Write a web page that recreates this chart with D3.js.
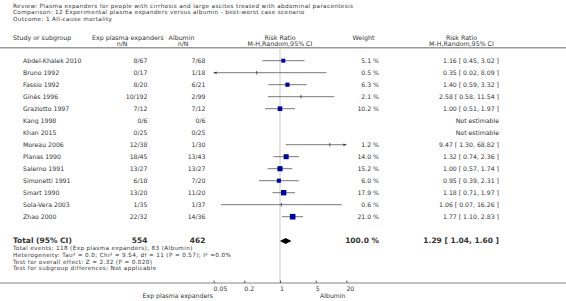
<!DOCTYPE html>
<html><head><meta charset="utf-8">
<script src="https://cdn.jsdelivr.net/npm/d3@7"></script>
<style>
html,body{margin:0;padding:0;background:#fff;}
svg text{font-family:"DejaVu Sans",sans-serif;font-size:6.4px;fill:#333;}
</style></head><body>
<svg id="c" width="566" height="301"></svg>
<script>
const titleLines = [
  "Review:  Plasma expanders for people with cirrhosis and large ascites treated with abdominal paracentesis",
  "Comparison:  12 Experimental plasma expanders versus albumin - best-worst case scenario",
  "Outcome:  1 All-cause mortality"
];
const studies = ["Abdel-Khalek 2010","Bruno 1992","Fassio 1992","Ginès 1996","Graziotto 1997","Kang 1998","Khan 2015","Moreau 2006","Planas 1990","Salerno 1991","Simonetti 1991","Smart 1990","Sola-Vera 2003","Zhao  2000"];
const expNN = ["8/67","0/17","8/20","10/192","7/12","0/6","0/25","12/38","18/45","13/27","6/18","13/20","1/35","22/32"];
const albNN = ["7/68","1/18","6/21","2/99","7/12","0/6","0/25","1/30","13/43","13/27","7/20","11/20","1/37","14/36"];
const weights = [5.1,0.5,6.3,2.1,10.2,null,null,1.2,14.0,15.2,6.0,17.9,0.6,21.0];
const rr  = [1.16,0.35,1.40,2.58,1.00,null,null,9.47,1.32,1.00,0.95,1.18,1.06,1.77];
const lo  = [0.45,0.02,0.59,0.58,0.51,null,null,1.30,0.74,0.57,0.39,0.71,0.07,1.10];
const hi  = [3.02,8.09,3.32,11.54,1.97,null,null,68.82,2.36,1.74,2.31,1.97,16.26,2.83];
const total = {exp:"554", alb:"462", weight:"100.0 %", rr:1.29, lo:1.04, hi:1.60};
const footLines = [
  "Total events: 118 (Exp plasma expanders), 83 (Albumin)",
  "Heterogeneity: Tau² = 0.0; Chi² = 9.54, df = 11 (P = 0.57); I² =0.0%",
  "Test for overall effect: Z = 2.32 (P = 0.020)",
  "Test for subgroup differences: Not applicable"
];
const ticks = [0.05,0.2,1,5,20];

const svg = d3.select("#c");
const x = d3.scaleLog().domain([0.05,20]).range([213.6,346.4]);
const y = d3.scaleLinear().domain([0,13]).range([60.7,216.7]);
const fmt = d3.format(".2f");
const ciText = (r,l,h) => `${fmt(r)} [ ${fmt(l)}, ${fmt(h)} ]`;

// title
svg.selectAll("text.title").data(titleLines).join("text")
  .attr("x",13).attr("y",(d,i)=>7.8+i*6.6).text(d=>d).attr("fill","#222")
  .style("font-size","5.7px").style("letter-spacing","0.36px");

// headers
const hdr = [
  {t:"Study or subgroup",x:13,y:40,a:"start"},
  {t:"Exp plasma expanders",x:92,y:40,a:"start"},
  {t:"Albumin",x:194.5,y:40,a:"end"},
  {t:"n/N",x:127.5,y:45.5,a:"end"},
  {t:"n/N",x:188.5,y:45.5,a:"end"},
  {t:"Risk Ratio",x:280,y:40,a:"middle"},
  {t:"M-H,Random,95% CI",x:280,y:45.5,a:"middle"},
  {t:"Weight",x:352.5,y:40,a:"start"},
  {t:"Risk Ratio",x:461.5,y:40,a:"middle"},
  {t:"M-H,Random,95% CI",x:461.5,y:45.5,a:"middle"}
];
svg.selectAll("text.hdr").data(hdr).join("text")
  .attr("x",d=>d.x).attr("y",d=>d.y).attr("text-anchor",d=>d.a).text(d=>d.t)
  .style("font-size","6.3px");
svg.append("line").attr("x1",0).attr("x2",566).attr("y1",47.7).attr("y2",47.7)
  .attr("stroke","#999").attr("stroke-width",1.5);

// null line
svg.append("line").attr("x1",x(1)).attr("x2",x(1)).attr("y1",49).attr("y2",283)
  .attr("stroke","#ddd").attr("stroke-width",1.6);

// rows
const rows = studies.map((s,i)=>({s,i,e:expNN[i],a:albNN[i],w:weights[i],r:rr[i],l:lo[i],h:hi[i]}));
const g = svg.append("g");
const rt = (t,xx,yy,a)=>g.append("text").attr("x",xx).attr("y",yy+2.2).attr("text-anchor",a)
  .style("font-size","6.2px").text(t);
rows.forEach(d=>{
  const yy = y(d.i);
  rt(d.s,23,yy,"start");
  rt(d.e,147.5,yy,"end");
  rt(d.a,205.5,yy,"end");
  if (d.r==null){ rt("Not estimable",499,yy,"end"); return; }
  rt(d.w.toFixed(1)+" %",379,yy,"end");
  rt(ciText(d.r,d.l,d.h),499,yy,"end");
  const [d0,d1] = x.domain();
  const x1 = x(Math.max(d.l,d0)), x2 = x(Math.min(d.h,d1));
  g.append("line").attr("x1",x1).attr("x2",x2).attr("y1",yy).attr("y2",yy)
    .attr("stroke","#555").attr("stroke-width",0.8);
  if (d.l<d0) g.append("path").attr("d",`M${x1},${yy}l3,-1.3l0,2.6z`).attr("fill","#333");
  if (d.h>d1) g.append("path").attr("d",`M${x2},${yy}l-3,-1.3l0,2.6z`).attr("fill","#333");
  if (d.w<3){
    g.append("line").attr("x1",x(d.r)).attr("x2",x(d.r)).attr("y1",yy-1.8).attr("y2",yy+1.8)
      .attr("stroke","#333").attr("stroke-width",0.8);
  } else {
    const s = 2.4+0.7*Math.sqrt(d.w);
    g.append("rect").attr("x",x(d.r)-s/2).attr("y",yy-s/2).attr("width",s).attr("height",s)
      .attr("fill","#0000a0");
  }
});

// total
const ty = 241;
const tb = (t,xx,a)=>svg.append("text").attr("x",xx).attr("y",ty+2.0).attr("text-anchor",a)
  .style("font-size","7.5px").style("font-weight","bold").attr("fill","#111").text(t);
tb("Total (95% CI)",13,"start");
tb(total.exp,147.5,"end");
tb(total.alb,205.5,"end");
tb(total.weight,379,"end");
tb(ciText(total.rr,total.lo,total.hi),499,"end");
svg.append("path").attr("d",`M${x(total.lo)-1},${ty}L${x(total.rr)},${ty-3}L${x(total.hi)+1},${ty}L${x(total.rr)},${ty+3}Z`).attr("fill","#000");

svg.selectAll("text.foot").data(footLines).join("text")
  .attr("x",13).attr("y",(d,i)=>ty+9.3+i*6.6).text(d=>d).attr("fill","#222")
  .style("font-size","5.7px").style("letter-spacing","0.36px");

// axis
const ay = 283;
svg.append("line").attr("x1",0).attr("x2",566).attr("y1",ay).attr("y2",ay).attr("stroke","#666").attr("stroke-width",0.8);
const axis = d3.axisBottom(x).tickValues(ticks).tickSize(-2.5).tickFormat(d=>String(d));
const ag = svg.append("g").attr("transform",`translate(0,${ay})`).call(axis);
ag.select(".domain").remove();
ag.selectAll(".tick line").attr("stroke","#555");
ag.selectAll(".tick text").attr("text-anchor","start").attr("dy",0).attr("y",8).attr("x",-0.5)
  .style("font-family","DejaVu Sans").style("font-size","6.2px").attr("fill","#333");
svg.append("text").attr("x",213).attr("y",298).attr("text-anchor","end").text("Exp plasma expanders").style("font-size","6.2px");
svg.append("text").attr("x",320).attr("y",298).attr("text-anchor","start").text("Albumin").style("font-size","6.2px");
</script></body></html>
